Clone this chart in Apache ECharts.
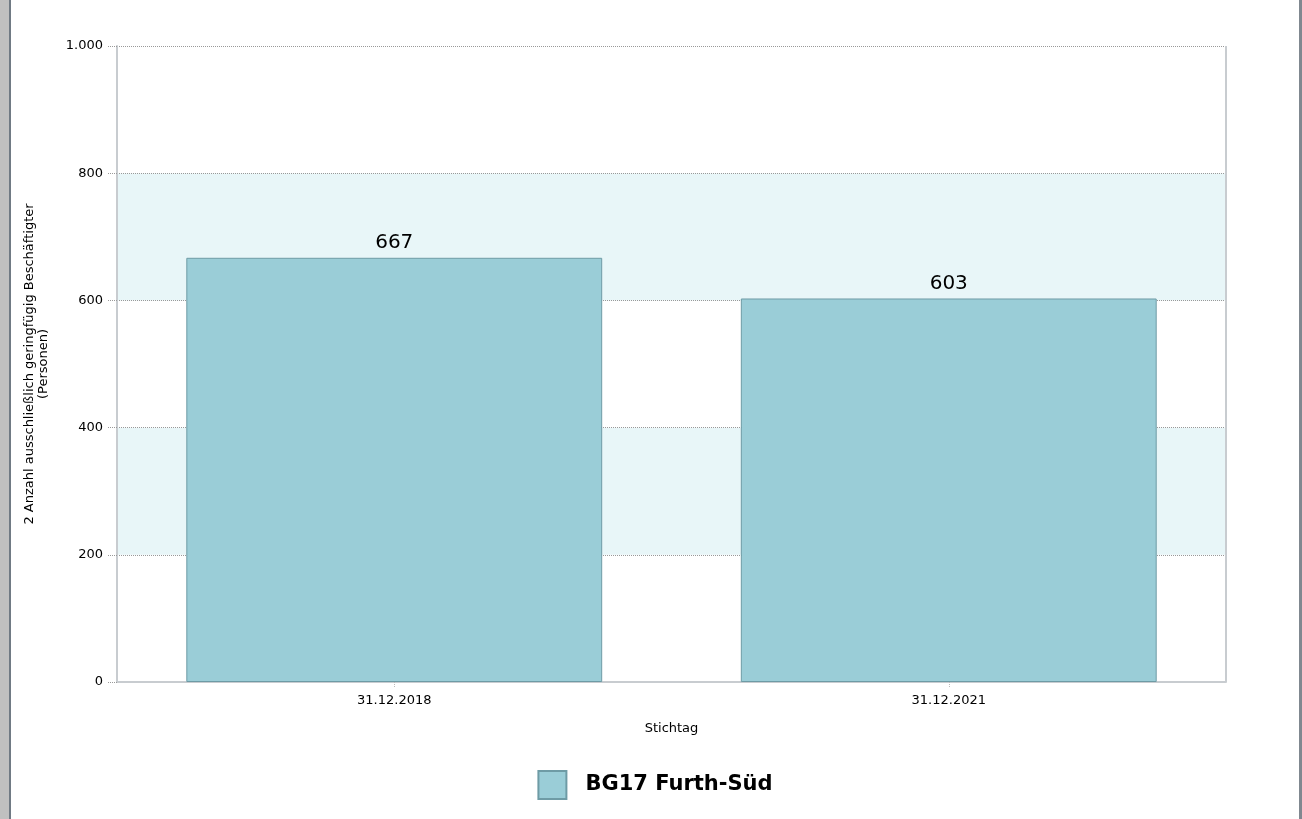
<!DOCTYPE html>
<html><head><meta charset="utf-8">
<script src="https://cdn.jsdelivr.net/npm/echarts@6/dist/echarts.min.js"></script>
<style>
html,body{margin:0;padding:0;background:#fff;}
#wrap{position:absolute;left:0;top:0;width:1302px;height:819px;}
#lb{position:absolute;left:0;top:0;width:9px;height:819px;background:#c0c0c0;border-right:2px solid #707a84;}
#rb{position:absolute;left:1299px;top:0;width:3px;height:819px;background:#808890;}
#chart{position:absolute;left:11px;top:0;width:1288px;height:819px;}
</style></head>
<body>
<div id="wrap"><div id="lb"></div><div id="rb"></div><div id="chart"></div></div>
<script>
const categories = ['31.12.2018', '31.12.2021'];
const values = [667, 603];
const seriesName = 'BG17 Furth-Süd';
const yAxisName = '2 Anzahl ausschließlich geringfügig Beschäftigter\n(Personen)';
const xAxisName = 'Stichtag';

const font = 'Tahoma, "DejaVu Sans", Verdana, sans-serif';
const chart = echarts.init(document.getElementById('chart'));
chart.setOption({
  animation: false,
  grid: {left: 106, right: 73, top: 46, bottom: 137, containLabel: false},
  legend: {
    bottom: 14, left: 'center',
    itemWidth: 28, itemHeight: 28, itemGap: 20,
    icon: 'rect',
    textStyle: {fontFamily: font, fontSize: 21, fontWeight: 'bold', color: '#000', padding: [0,0,0,14]},
    data: [seriesName]
  },
  xAxis: {
    type: 'category', data: categories,
    name: xAxisName, nameLocation: 'middle', nameGap: 40,
    nameTextStyle: {fontFamily: font, fontSize: 13, color: '#000'},
    axisLine: {show: true, lineStyle: {color: '#c8ccd0', width: 2}},
    axisTick: {show: true, alignWithLabel: true, length: 6, lineStyle: {color: '#bbb', type: 'dotted'}},
    axisLabel: {fontFamily: font, fontSize: 13, color: '#000', margin: 12},
    splitLine: {show: false}
  },
  yAxis: {
    type: 'value', min: 0, max: 1000, interval: 200,
    name: yAxisName, nameLocation: 'middle', nameGap: 66, nameRotate: 90,
    nameTextStyle: {fontFamily: font, fontSize: 13, color: '#000', lineHeight: 14},
    axisLine: {show: true, lineStyle: {color: '#c8ccd0', width: 2}},
    axisTick: {show: true, length: 9, lineStyle: {color: '#999', type: 'dotted'}},
    axisLabel: {fontFamily: font, fontSize: 13, color: '#000', margin: 14,
      formatter: v => v >= 1000 ? (v/1000).toFixed(3) : String(v)},
    splitLine: {show: true, lineStyle: {color: '#999', type: 'dotted', width: 1}},
    splitArea: {show: true, areaStyle: {color: ['#ffffff', '#e8f6f8']}}
  },
  graphic: [{
    type: 'line', shape: {x1: 1215, y1: 46, x2: 1215, y2: 682},
    style: {stroke: '#c8ccd0', lineWidth: 2}, z: 10
  }],
  series: [{
    name: seriesName, type: 'bar', data: values, barWidth: '75%',
    itemStyle: {color: '#9acdd7', borderColor: '#6e9ba5', borderWidth: 1},
    label: {show: true, position: 'top', fontFamily: font, fontSize: 20, color: '#000', distance: 5}
  }]
});
</script>
</body></html>
